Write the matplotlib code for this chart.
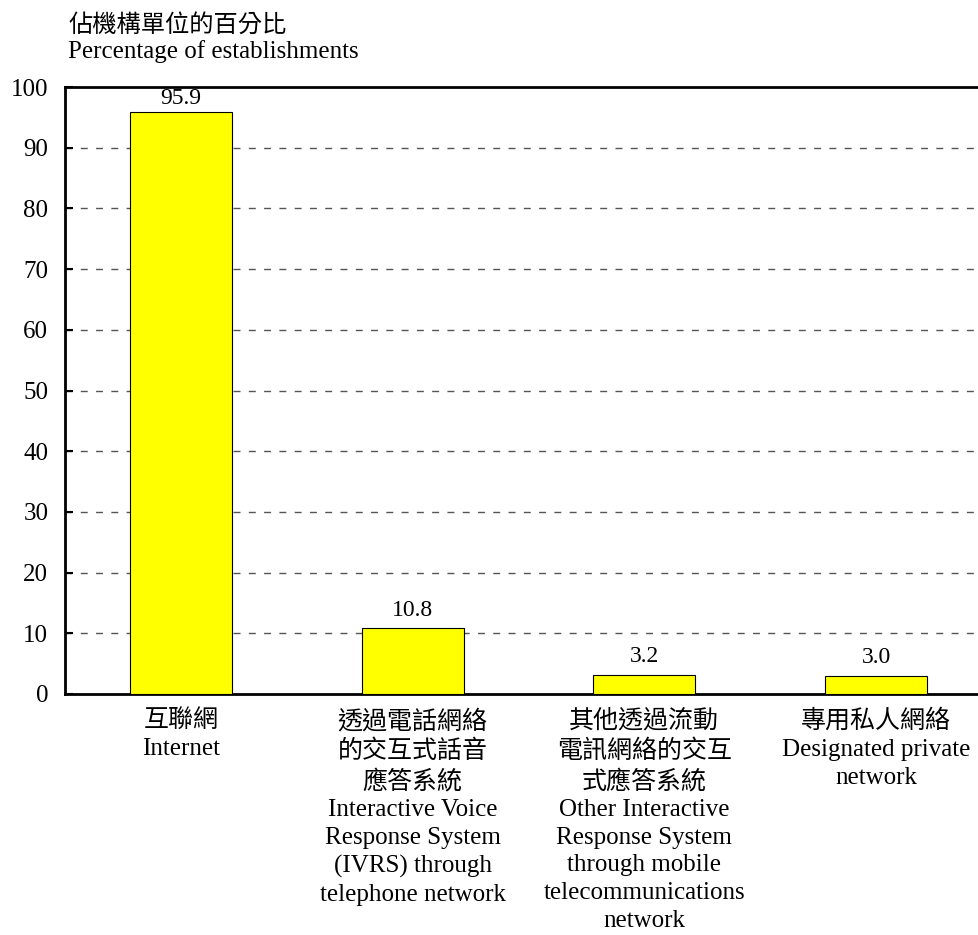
import numpy as np
import matplotlib.pyplot as plt

plt.rcParams['font.family'] = ['Liberation Serif', 'Noto Sans CJK TC']

labels = [
    "互聯網\nInternet",
    "透過電話網絡\n的交互式話音\n應答系統\nInteractive Voice\nResponse System\n(IVRS) through\ntelephone network",
    "其他透過流動\n電訊網絡的交互\n式應答系統\nOther Interactive\nResponse System\nthrough mobile\ntelecommunications\nnetwork",
    "專用私人網絡\nDesignated private\nnetwork",
]
values = [95.9, 10.8, 3.2, 3.0]
yticks = list(range(0, 101, 10))

fig = plt.figure(figsize=(9.79, 9.35), dpi=100)
ax = fig.add_axes([65 / 979, 241 / 935, 927 / 979, 607 / 935])

x = np.arange(len(values))
ax.bar(x, values, width=0.44, color='#ffff00', edgecolor='black', linewidth=0.8, zorder=3)

for xi, v in zip(x, values):
    ax.text(xi, min(v + 1.3, 96.3), f"{v:.1f}", ha='center', va='bottom', fontsize=17)

for t in yticks[1:-1]:
    ax.axhline(t, color='#555555', linewidth=1, linestyle=(0, (5, 6)), zorder=1)

ax.set_xlim(-0.5, 3.5)
ax.set_ylim(0, 100)
ax.set_yticks(yticks)
ax.tick_params(axis='y', direction='in', length=6, width=1.5, pad=12, labelsize=18)
ax.set_xticks(x)
ax.set_xticklabels(labels, fontsize=18, linespacing=1.34)
ax.tick_params(axis='x', length=0, pad=11)

for s in ['left', 'bottom', 'top']:
    ax.spines[s].set_linewidth(2)
ax.spines['right'].set_visible(False)

fig.text(68 / 979, 1 - 25 / 935, "佔機構單位的百分比", fontsize=17.5, va='center', ha='left')
fig.text(68 / 979, 1 - 52 / 935, "Percentage of establishments", fontsize=18, va='center', ha='left')

fig.savefig("out.png", dpi=100)
